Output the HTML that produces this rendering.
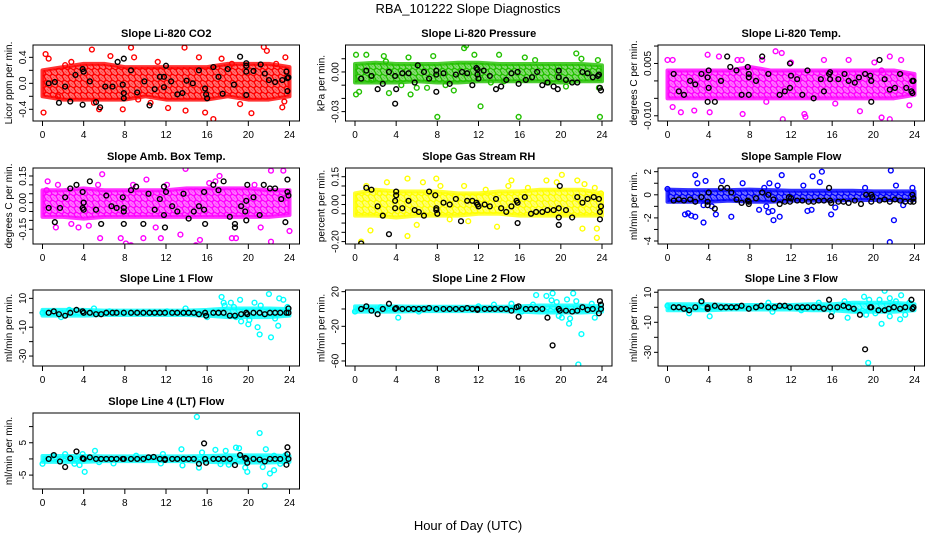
<!DOCTYPE html>
<html><head><meta charset="utf-8"><style>
html,body{margin:0;padding:0;background:#fff;}
svg{display:block;font-family:"Liberation Sans",sans-serif;}
</style></head><body>
<svg id="chart" width="936" height="540" viewBox="0 0 936 540" xmlns="http://www.w3.org/2000/svg">
<defs id="defs"></defs>
<text x="468" y="13" font-size="13" text-anchor="middle">RBA_101222  Slope Diagnostics</text>
<text x="468" y="530" font-size="13" text-anchor="middle">Hour of Day (UTC)</text>
<g id="panels"></g>
</svg>
<script>
const bandHours=[0,2,4,6,8,10,12,14,16,18,20,22,24];
const xTicks=[0,4,8,12,16,20,24];

const co2BandHi=[0.2,0.25,0.3,0.3,0.25,0.25,0.25,0.25,0.25,0.3,0.3,0.3,0.25];
const co2BandLo=[-0.2,-0.25,-0.25,-0.25,-0.25,-0.2,-0.25,-0.25,-0.25,-0.2,-0.25,-0.25,-0.2];
const co2Out=[[0.1,-0.45],[0.3,0.45],[0.6,0.38],[1.5,-0.2],[2.8,0.33],[4.8,0.52],[5.5,-0.4],[6.6,0.42],[7.8,-0.4],[8.6,0.55],[8.9,0.4],[10.5,-0.3],[11.2,0.33],[12.2,-0.38],[13.8,0.55],[13.9,-0.42],[15.2,0.4],[15.8,-0.45],[16.6,-0.55],[17.4,0.38],[19.2,-0.32],[20.3,-0.46],[21.5,0.56],[21.8,0.5],[22.7,0.3],[23.3,-0.37],[23.6,0.4],[23.5,-0.28],[2.2,0.28],[9.3,-0.25],[18.4,0.3],[5.0,-0.3]];
const co2Blk=[[0.6,0],[1.2,0.02],[1.6,-0.3],[2.2,-0.05],[2.7,-0.28],[3.2,0.13],[3.9,-0.33],[3.9,0.22],[4.0,0.18],[4.6,0.03],[5.2,-0.29],[5.6,-0.37],[6.1,-0.05],[6.8,-0.05],[7.3,0.33],[7.8,-0.02],[7.9,-0.15],[7.9,-0.23],[7.9,0.38],[8.6,0.2],[9.2,-0.14],[9.9,0.03],[10.4,-0.34],[10.9,-0.09],[11.4,0.1],[11.8,-0.06],[11.8,0.1],[12.0,0.27],[12.5,0.03],[13.1,-0.17],[13.6,-0.15],[14.0,0.04],[14.6,0],[15.2,0.2],[15.8,-0.08],[15.9,-0.17],[16.0,-0.23],[16.6,0.25],[17.1,0.1],[17.5,-0.16],[18.0,0.22],[18.6,-0.02],[19.2,0.41],[19.8,0.31],[19.8,0.27],[19.8,0.18],[19.8,-0.18],[20.5,0.19],[21.2,0.29],[21.6,0.15],[22.0,0.05],[22.6,0.02],[23.3,0.05],[23.7,0.18],[23.8,0.08],[23.8,-0.12],[23.9,0.09]];

const presBandHi=[0.006,0.007,0.006,0.006,0.006,0.007,0.007,0.006,0.006,0.006,0.006,0.006,0.005];
const presBandLo=[-0.008,-0.008,-0.008,-0.007,-0.008,-0.008,-0.007,-0.007,-0.007,-0.007,-0.008,-0.007,-0.007];
const presOut=[[0.1,0.013],[0.1,-0.017],[0.4,-0.015],[1.1,0.013],[1.6,-0.006],[2.8,0.012],[3.3,-0.016],[4.5,-0.01],[5.2,0.011],[5.4,-0.017],[6.0,-0.012],[7.0,-0.012],[7.6,0.012],[8.0,-0.034],[8.8,-0.01],[9.6,-0.014],[10.6,0.018],[10.8,0.02],[11.6,0.013],[12.2,-0.026],[13.2,-0.008],[14.0,0.013],[14.5,-0.007],[15.9,-0.034],[16.5,0.011],[18.8,-0.008],[20.5,-0.011],[21.5,0.014],[22.0,0.01],[23.8,-0.034],[23.6,0.009],[23.7,-0.012],[3.0,0.008],[17.5,0.009]];
const presBlk=[[1.1,0.001],[0.6,-0.005],[1.6,-0.003],[2.2,-0.013],[2.7,-0.009],[3.3,0],[3.9,-0.003],[3.9,-0.024],[4.0,-0.013],[4.6,-0.001],[5.2,-0.001],[5.8,-0.008],[6.1,0.005],[6.7,0],[7.2,-0.005],[7.9,-0.015],[7.9,-0.002],[7.9,0.001],[8.6,-0.001],[9.2,-0.009],[9.8,-0.002],[10.4,0],[10.9,-0.001],[11.4,-0.01],[11.8,0.003],[11.9,0.002],[11.9,-0.002],[12.0,-0.005],[12.5,0.001],[13.1,-0.003],[13.7,-0.013],[14.2,-0.011],[14.7,-0.006],[15.2,-0.001],[15.8,0],[15.9,-0.009],[16.6,-0.006],[17.2,-0.004],[17.7,0],[18.2,-0.01],[18.7,-0.008],[19.3,-0.011],[19.7,-0.013],[19.8,-0.004],[19.8,0.001],[20.5,-0.006],[21.1,-0.008],[21.6,-0.008],[22.1,0],[22.6,-0.001],[23.1,-0.004],[23.6,-0.003],[23.7,-0.002],[23.8,-0.012],[23.9,-0.014]];

const tempBandHi=[0.003,0.003,0.003,0.003,0.004,0.003,0.003,0.003,0.003,0.003,0.003,0.003,0.002];
const tempBandLo=[-0.005,-0.005,-0.005,-0.005,-0.005,-0.005,-0.005,-0.005,-0.005,-0.005,-0.005,-0.005,-0.004];
const tempOut=[[0,0.006],[0.5,0.006],[0.5,-0.0075],[1.3,-0.009],[2.6,-0.0085],[3.9,0.0075],[5.0,0.007],[6.8,0.006],[7.2,0.006],[7.3,-0.0095],[9.2,0.006],[10.5,0.0085],[11.1,0.008],[11.2,-0.011],[12.0,0.0053],[13.3,-0.0095],[13.4,-0.0103],[15.2,0.006],[17.6,0.006],[18.7,-0.0087],[20.1,0.0053],[20.8,-0.0105],[21.6,-0.011],[21.6,0.007],[22.7,0.006],[4.1,-0.009],[9.6,-0.006],[16.3,-0.0065],[20.8,0.003],[23.5,-0.007]];
const tempBlk=[[0.6,0.002],[1.1,-0.003],[1.6,-0.004],[2.2,0],[2.7,-0.001],[3.3,0.002],[3.9,0.001],[3.9,-0.006],[4.0,0.003],[4.0,-0.002],[4.6,-0.006],[5.2,0],[5.8,0.007],[6.1,0.004],[6.7,0.003],[7.2,-0.004],[7.8,0.004],[7.9,0.002],[7.9,0.001],[7.9,-0.004],[8.6,0],[9.2,0.007],[9.8,0.002],[10.3,-0.0125],[10.9,-0.004],[11.4,-0.003],[11.9,-0.002],[11.9,0.005],[12.0,0.0015],[12.6,0.0005],[13.1,-0.004],[13.6,0.003],[14.2,-0.005],[14.9,0.0005],[15.2,-0.003],[15.7,0.002],[15.8,0.0025],[15.8,0.0005],[16.6,0.0005],[17.2,0.002],[17.6,0],[18.2,-0.0005],[18.6,0.001],[19.2,0.002],[19.7,0.0015],[19.8,0],[19.8,-0.006],[20.6,0.006],[21.1,0.0005],[21.6,-0.0025],[22.1,-0.002],[22.6,0.002],[23.2,-0.002],[23.7,-0.003],[23.8,-0.0035],[23.8,0],[23.9,0]];

const ambBandHi=[0.07,0.07,0.08,0.07,0.07,0.07,0.07,0.08,0.08,0.08,0.08,0.07,0.07];
const ambBandLo=[-0.08,-0.08,-0.09,-0.08,-0.08,-0.08,-0.08,-0.08,-0.08,-0.08,-0.08,-0.08,-0.07];
const ambOut=[[0.4,0.07],[0.5,0.12],[1.3,-0.14],[1.5,0.1],[2.8,-0.12],[3.5,-0.14],[4.5,-0.13],[5.4,0.1],[5.6,-0.2],[5.8,0.16],[7.6,-0.2],[8.1,-0.23],[8.6,-0.24],[8.8,0.1],[9.8,-0.2],[10.1,0.13],[11.5,-0.2],[12.1,0.1],[13.4,-0.18],[13.9,0.19],[14.9,-0.24],[15.3,-0.21],[16.2,0.11],[16.8,0.12],[17.2,0.15],[18.4,-0.2],[18.8,-0.2],[20.6,0.1],[22.2,-0.22],[22.2,0.18],[23.4,0.18],[24.0,-0.16],[21.2,-0.14],[11.0,-0.14]];
const ambBlk=[[0.6,-0.03],[1.2,-0.11],[1.7,-0.03],[2.2,0.03],[2.7,0.08],[3.3,0.1],[3.9,0.06],[3.9,-0.03],[4.0,0],[4.0,-0.04],[4.6,0.12],[5.2,-0.04],[5.7,-0.12],[6.2,0.04],[6.7,-0.02],[7.2,-0.03],[7.8,0.03],[7.9,-0.03],[7.9,-0.05],[7.9,-0.12],[8.6,0.07],[9.1,0.09],[9.8,-0.12],[10.3,0.05],[10.9,-0.04],[11.4,0.02],[11.8,0.09],[11.8,-0.07],[11.9,-0.14],[12.0,0.06],[12.6,-0.02],[13.1,-0.05],[13.7,0.05],[14.2,-0.09],[14.7,-0.05],[15.2,-0.02],[15.7,0.06],[15.7,-0.04],[15.8,-0.12],[16.6,0.1],[17.1,0.07],[17.6,0.12],[18.2,-0.08],[18.7,-0.12],[18.7,-0.14],[19.3,-0.02],[19.7,-0.05],[19.8,0.01],[19.8,-0.1],[19.9,0.1],[20.5,0.03],[21.1,-0.07],[21.5,0.1],[22.1,0.08],[22.6,0.08],[23.2,0.02],[23.6,-0.11],[23.8,0.06],[23.8,0.13],[23.9,0.04]];

const rhBandHi=[0.06,0.08,0.07,0.07,0.07,0.06,0.06,0.07,0.07,0.08,0.08,0.08,0.06];
const rhBandLo=[-0.06,-0.06,-0.07,-0.06,-0.06,-0.06,-0.05,-0.05,-0.06,-0.06,-0.06,-0.06,-0.06];
const rhOut=[[0.6,-0.2],[1.1,0.1],[1.5,-0.14],[3.1,0.12],[5.1,-0.17],[5.1,0.14],[6.0,-0.11],[6.6,0.12],[7.9,0.14],[8.3,0.1],[9.2,-0.08],[10.6,0.1],[11.0,-0.09],[12.7,0.08],[13.8,-0.12],[14.9,0.1],[15.2,0.13],[16.8,0.09],[18.6,0.13],[19.6,0.12],[20.1,0.16],[21.6,0.13],[22.1,-0.13],[22.3,0.11],[23.3,0.09],[23.5,-0.18],[23.5,-0.13],[23.9,0.06],[2.4,0.06]];
const rhBlk=[[0.6,-0.21],[1.1,0.09],[1.6,0.08],[2.2,-0.01],[2.7,-0.06],[3.3,-0.16],[3.9,-0.02],[3.9,0.02],[4.0,0.05],[4.0,0.07],[4.6,-0.02],[5.2,0.02],[5.8,-0.03],[6.2,-0.04],[6.7,-0.06],[7.2,0.07],[7.8,0.05],[7.9,-0.02],[7.9,-0.03],[8.0,-0.05],[8.6,0.01],[9.2,0],[9.8,0.03],[10.3,-0.09],[10.9,0.02],[11.4,0.02],[11.8,0.01],[11.9,0],[12.0,-0.01],[12.6,0],[13.1,-0.01],[13.7,0.03],[14.2,-0.02],[14.7,-0.04],[15.2,-0.01],[15.7,0.02],[15.8,0.01],[15.8,-0.1],[16.5,0.04],[17.1,-0.05],[17.6,-0.04],[18.2,-0.04],[18.7,-0.03],[19.3,-0.03],[19.8,-0.07],[19.8,-0.02],[19.8,-0.11],[19.9,0.1],[20.5,-0.03],[21.1,-0.07],[21.6,0.04],[22.1,0.01],[22.6,0.03],[23.2,0.04],[23.7,0.03],[23.8,-0.04],[23.8,-0.08],[23.9,-0.01]];

const sampBandHi=[0.45,0.4,0.4,0.4,0.45,0.4,0.35,0.35,0.35,0.35,0.3,0.3,0.3];
const sampBandLo=[-0.6,-0.6,-0.6,-0.5,-0.6,-0.6,-0.5,-0.5,-0.5,-0.45,-0.45,-0.45,-0.45];
const sampOut=[[0,0.5],[1.7,-1.7],[2.0,-1.6],[2.3,-1.8],[2.7,-1.9],[2.7,1.7],[2.9,1.0],[3.5,-0.9],[3.5,-2.4],[3.7,1.2],[4.7,-1.7],[5.3,1.2],[6.2,-1.9],[7.3,1.0],[8.9,-1.3],[9.6,-1.0],[9.9,1.0],[9.8,-1.5],[10.3,-2.2],[10.2,-1.4],[10.7,0.8],[10.9,-1.9],[11.1,1.7],[13.2,0.8],[13.6,-1.4],[14.0,-1.3],[14.1,1.6],[14.8,1.1],[15.0,2.0],[15.9,-1.7],[16.3,-1.1],[19.2,0.6],[21.6,-4.1],[21.7,2.1],[22.0,-2.2],[22.2,0.8],[22.9,-0.9],[23.8,0.6],[9.4,0.6],[4.3,-1.0]];
const sampBlk=[[0.6,-0.5],[1.1,-0.4],[1.6,-0.5],[2.2,-0.4],[2.7,-0.6],[3.3,-0.2],[3.9,-0.9],[3.9,-0.6],[4.0,0.2],[4.6,-1.2],[5.2,0.6],[5.8,0.6],[6.2,0.2],[6.7,-0.4],[7.2,-0.7],[7.8,-0.5],[7.9,-0.6],[7.9,-0.8],[8.6,-0.3],[9.2,0.2],[9.8,0],[10.3,-0.4],[10.9,-0.8],[11.4,-0.6],[11.8,-0.2],[11.9,-0.6],[12.0,-0.3],[12.6,-0.5],[13.1,-0.5],[13.7,-0.6],[14.2,-0.6],[14.7,-0.5],[15.2,-0.5],[15.7,0.6],[15.8,-0.5],[15.9,-0.7],[16.6,-0.6],[17.1,-0.6],[17.6,-0.7],[18.2,-0.5],[18.8,-0.8],[19.3,0],[19.8,0],[19.8,-0.6],[19.9,-0.2],[20.6,-0.5],[21.1,-0.4],[21.6,-0.6],[22.1,-0.4],[22.6,-0.5],[23.1,-0.6],[23.6,-0.6],[23.8,0],[23.9,-0.6],[23.9,-0.3]];

const l1BandHi=[2,2,2,1.5,1.5,1.5,1.5,1.5,2,3,3,3,2.5];
const l1BandLo=[-2,-2,-2,-1.5,-1.5,-1.5,-1.5,-1.5,-2,-3,-3,-3,-2];
const l1Out=[[0,0],[1.8,-3],[2.6,2],[5.0,3],[6.5,1],[12.1,1],[13.9,3],[15.5,-1],[17.4,11],[17.6,7],[17.7,5],[18.3,7],[18.6,4],[19.2,9],[19.3,-6],[20.0,-8],[20.1,-5],[20.6,7],[20.9,-10],[21.1,-15],[21.2,5],[21.9,-45],[22.0,13],[22.2,-17],[22.6,-4],[22.9,-9],[23.0,10],[23.4,9],[23.6,1],[23.8,4],[16.0,-3],[18.8,-3]];
const l1Blk=[[0.6,0],[1.1,1],[1.6,-1],[2.2,-2],[2.7,0],[3.3,2],[3.9,1],[4.0,0],[4.6,0],[5.2,-1],[5.7,-1],[6.2,0],[6.8,0],[7.2,0],[7.9,0],[8.6,0],[9.2,0],[9.8,0],[10.4,0],[10.9,0],[11.4,0],[11.9,0],[12.6,0],[13.1,0],[13.7,0],[14.2,0],[14.7,0],[15.2,-1],[15.8,0],[15.9,-2],[16.6,0],[17.1,0],[17.6,0],[18.2,-2],[18.7,-2],[19.3,-1],[19.8,0],[19.9,-1],[20.5,0],[21.1,0],[21.6,-1],[22.1,0],[22.6,0],[23.1,0],[23.7,0],[23.9,0],[23.9,3]];

const l2BandHi=[3,3,3,2.5,2.5,2.5,2.5,2.5,3,4,4,4,3];
const l2BandLo=[-3,-3,-3,-2.5,-2.5,-2.5,-2.5,-2.5,-3,-4,-4,-4,-3];
const l2Out=[[0,-3],[2.5,2],[4.2,-10],[6.2,-3],[13.5,5],[15.2,6],[17.3,5],[17.6,16],[18.6,15],[19.2,18],[19.1,10],[19.6,8],[19.8,-8],[20.1,-10],[20.6,11],[20.8,-17],[20.9,-11],[21.2,18],[21.5,9],[22.0,-29],[21.7,-64],[23.3,-10],[23.0,6],[16.2,-3],[12.0,3]];
const l2Blk=[[0.6,0],[1.1,3],[1.6,-2],[2.2,-6],[2.7,0],[3.3,6],[3.9,0],[4.0,1],[4.6,0],[5.2,0],[5.7,0],[6.2,0],[6.7,0],[7.2,1],[7.9,0],[8.6,0],[9.2,0],[9.8,0],[10.4,0],[10.9,1],[11.4,0],[11.9,-1],[11.9,0],[12.6,0],[13.1,0],[13.6,0],[14.2,0],[14.7,0],[15.2,-2],[15.7,2],[15.9,3],[15.9,-9],[16.6,0],[17.1,0],[17.6,0],[18.2,0],[18.7,-10],[19.2,-42],[19.8,0],[19.9,-2],[20.5,-2],[21.1,-3],[21.6,-2],[22.1,2],[22.6,-1],[23.1,0],[23.7,-5],[23.8,9],[23.9,5],[23.9,0]];

const l3BandHi=[2,2,2,1.5,1.5,1.5,1.5,2,2,3,3,3,2];
const l3BandLo=[-2,-2,-2,-1.5,-1.5,-1.5,-1.5,-2,-2,-3,-3,-3,-2];
const l3Out=[[0,1],[2.1,-4],[3.3,3],[4.1,-6],[9.8,3],[10.2,-3],[13.0,-2],[14.7,3],[16.0,-3],[17.2,4],[17.5,-7],[17.6,2],[18.3,-2],[19.1,7],[19.3,-5],[19.5,-37],[19.6,5],[20.2,-4],[20.6,5],[20.8,-11],[21.1,11],[21.6,6],[21.6,-6],[22.2,4],[22.6,-8],[22.7,8],[23.1,-5],[23.5,3]];
const l3Blk=[[0.6,0],[1.1,0],[1.6,-1],[2.1,-2],[2.7,0],[3.3,4],[3.9,0],[3.9,-1],[4.6,1],[5.2,0],[5.7,0],[6.2,0],[6.7,0],[7.2,1],[7.9,-1],[8.6,0],[9.1,1],[9.8,0],[10.4,0],[10.9,1],[11.4,1],[11.9,0],[12.6,0],[13.1,0],[13.6,0],[14.2,0],[14.7,0],[15.2,-1],[15.7,5],[15.8,0],[15.9,-6],[16.5,0],[17.1,1],[17.6,0],[18.1,-1],[18.7,-5],[19.2,-28],[19.7,0],[19.8,0],[20.5,-2],[21.1,-2],[21.5,-1],[22.0,0],[22.6,-1],[23.1,0],[23.7,5],[23.8,-1],[23.9,0]];

const l4BandHi=[0.9,0.9,0.9,0.8,0.8,0.8,0.8,0.8,0.9,1.1,1.1,1.1,0.9];
const l4BandLo=[-0.9,-0.9,-0.9,-0.7,-0.7,-0.7,-0.7,-0.7,-0.9,-1.1,-1.1,-1.1,-0.9];
const l4Out=[[0,-1.5],[1.0,1],[2.2,1.5],[3.1,-1.5],[3.6,-1.9],[3.9,1.5],[4.1,-4],[5.1,2.5],[5.5,-1],[6.9,-1.4],[9.1,1],[11.7,1.5],[11.5,-1.4],[13.5,3],[13.6,-2],[15.0,13],[15.2,-2.7],[15.5,2],[16.8,2.8],[17.3,-1.6],[17.8,2.5],[18.1,-1.8],[18.8,3.5],[19.1,3.3],[19.7,-2.7],[19.9,-4],[21.1,8],[21.4,-2.5],[21.6,-8.3],[21.7,3],[22.1,-4.5],[22.5,-3.5],[22.5,1],[23.1,-1.5],[23.6,1.1]];
const l4Blk=[[0.6,0],[1.1,1.2],[1.7,-0.8],[2.2,-2.5],[2.7,0.2],[3.3,2.3],[3.9,0.2],[4.0,0],[4.6,0.5],[5.2,0],[5.7,0],[6.2,0],[6.7,0],[7.2,0],[7.8,0],[7.9,0],[8.6,0],[9.2,0],[9.8,0],[10.3,0.5],[10.8,0.6],[11.4,0],[11.9,0],[11.9,-0.3],[12.6,0],[13.1,0],[13.7,0],[14.2,0],[14.7,0],[15.2,-1.5],[15.7,4.8],[15.8,0],[15.9,-1.2],[16.6,0],[17.1,0],[17.6,0],[18.2,0],[18.7,-1.9],[19.2,1.2],[19.7,0.3],[19.8,0],[19.9,-1.2],[20.5,0],[21.1,-0.2],[21.6,-0.8],[22.1,0],[22.6,0],[23.1,0],[23.7,-1.8],[23.8,3.6],[23.8,1.5],[23.9,0]];

const panels=[
 {id:'co2',title:'Slope Li-820 CO2',ylab:'Licor ppm per min.',col:0,row:0,color:'#ff0000',ylim:[-0.58,0.59],yt:[-0.4,-0.2,0,0.2,0.4],yl:{'-0.4':'-0.4','0':'0.0','0.4':'0.4'},hi:co2BandHi,lo:co2BandLo,out:co2Out,blk:co2Blk},
 {id:'pressure',title:'Slope Li-820 Pressure',ylab:'kPa per min.',col:1,row:0,color:'#22c000',ylim:[-0.0371,0.0204],yt:[-0.03,-0.02,-0.01,0,0.01],yl:{'-0.03':'-0.03','0':'0.00'},hi:presBandHi,lo:presBandLo,out:presOut,blk:presBlk},
 {id:'temp',title:'Slope Li-820 Temp.',ylab:'degrees C per min.',col:2,row:0,color:'#ff00ff',ylim:[-0.0115,0.0103],yt:[-0.01,-0.005,0,0.005,0.01],yl:{'-0.01':'-0.010','0.005':'0.005'},hi:tempBandHi,lo:tempBandLo,out:tempOut,blk:tempBlk},
 {id:'amb-box-temp',title:'Slope Amb. Box Temp.',ylab:'degrees C per min.',col:0,row:1,color:'#ff00ff',ylim:[-0.233,0.195],yt:[-0.15,-0.1,-0.05,0,0.05,0.1,0.15],yl:{'-0.15':'-0.15','0':'0.00','0.15':'0.15'},hi:ambBandHi,lo:ambBandLo,out:ambOut,blk:ambBlk},
 {id:'gas-rh',title:'Slope Gas Stream RH',ylab:'percent per min.',col:1,row:1,color:'#ffff00',ylim:[-0.213,0.197],yt:[-0.2,-0.15,-0.1,-0.05,0,0.05,0.1,0.15],yl:{'-0.2':'-0.20','0':'0.00','0.15':'0.15'},hi:rhBandHi,lo:rhBandLo,out:rhOut,blk:rhBlk},
 {id:'sample-flow',title:'Slope Sample Flow',ylab:'ml/min per min.',col:2,row:1,color:'#0000ff',ylim:[-4.26,2.32],yt:[-4,-3,-2,-1,0,1,2],yl:{'-4':'-4','-2':'-2','0':'0','2':'2'},hi:sampBandHi,lo:sampBandLo,out:sampOut,blk:sampBlk},
 {id:'line1-flow',title:'Slope Line 1 Flow',ylab:'ml/min per min.',col:0,row:2,color:'#00ffff',ylim:[-36.9,15.8],yt:[-30,-20,-10,0,10],yl:{'-30':'-30','-10':'-10','10':'10'},hi:l1BandHi,lo:l1BandLo,out:l1Out,blk:l1Blk},
 {id:'line2-flow',title:'Slope Line 2 Flow',ylab:'ml/min per min.',col:1,row:2,color:'#00ffff',ylim:[-65.8,21.9],yt:[-60,-40,-20,0,20],yl:{'-60':'-60','-20':'-20','20':'20'},hi:l2BandHi,lo:l2BandLo,out:l2Out,blk:l2Blk},
 {id:'line3-flow',title:'Slope Line 3 Flow',ylab:'ml/min per min.',col:2,row:2,color:'#00ffff',ylim:[-39.1,11.5],yt:[-30,-20,-10,0,10],yl:{'-30':'-30','-10':'-10','10':'10'},hi:l3BandHi,lo:l3BandLo,out:l3Out,blk:l3Blk},
 {id:'line4-flow',title:'Slope Line 4 (LT) Flow',ylab:'ml/min per min.',col:0,row:3,color:'#00ffff',ylim:[-9.3,14.2],yt:[-5,0,5,10],yl:{'-5':'-5','5':'5'},hi:l4BandHi,lo:l4BandLo,out:l4Out,blk:l4Blk}
];

const NS='http://www.w3.org/2000/svg';
const root=document.getElementById('panels');
const defs=document.getElementById('defs');
const colLeft=[33,345.5,658], rowTop=[45,168,290,413], W=266.5, H=76;
function mk(tag,attrs,parent){const e=document.createElementNS(NS,tag);for(const k in attrs)e.setAttribute(k,attrs[k]);parent.appendChild(e);return e;}

panels.forEach(p=>{
  const L=colLeft[p.col], T=rowTop[p.row];
  const xs=h=>L+9.5+h*(247/24);
  const ys=v=>T+H-(v-p.ylim[0])/(p.ylim[1]-p.ylim[0])*H;
  const pat=mk('pattern',{id:'pat-'+p.id,width:6,height:6,patternUnits:'userSpaceOnUse'},defs);
  mk('circle',{cx:1.5,cy:1.5,r:2.2,fill:'none',stroke:p.color,'stroke-width':1.4},pat);
  mk('circle',{cx:4.5,cy:4.5,r:2.2,fill:'none',stroke:p.color,'stroke-width':1.4},pat);
  const g=mk('g',{},root);
  
  
  const cp=mk('clipPath',{id:'clip-'+p.id},g);
  mk('rect',{x:L,y:T,width:W,height:H},cp);
  const t=mk('text',{x:L+W/2,y:T-8,'font-size':11,'font-weight':'bold','text-anchor':'middle'},g);
  t.textContent=p.title;
  
  
  const yl=mk('text',{x:0,y:0,'font-size':10,'text-anchor':'middle',transform:`translate(${L-21},${T+H/2}) rotate(-90)`},g);
  yl.textContent=p.ylab;
  
  
  const dg=mk('g',{'clip-path':`url(#clip-${p.id})`},g);
  let pts=bandHours.map((h,i)=>xs(h)+','+ys(p.hi[i]));
  pts=pts.concat(bandHours.slice().reverse().map((h,i)=>xs(h)+','+ys(p.lo[bandHours.length-1-i])));
  const under=mk('polygon',{points:pts.join(' '),fill:p.color,'fill-opacity':0.55,stroke:p.color,'stroke-opacity':0.8,'stroke-width':4,'stroke-linejoin':'round'},dg);
  
  
  const band=mk('polygon',{points:pts.join(' '),fill:`url(#pat-${p.id})`,stroke:'none'},dg);
  
  
  p.out.forEach(d=>{
    const c=mk('circle',{cx:xs(d[0]),cy:ys(d[1]),r:2.4,fill:'none',stroke:p.color,'stroke-width':1.4},dg);
    
    
  });
  p.blk.forEach(d=>{
    const c=mk('circle',{cx:xs(d[0]),cy:ys(d[1]),r:2.4,fill:'none',stroke:'#000','stroke-width':1.4},dg);
    
    
  });
  const box=mk('rect',{x:L,y:T,width:W,height:H,fill:'none',stroke:'#000','stroke-width':1},g);
  
  
  const xa=mk('g',{},g);
  
  
  xTicks.forEach(h=>{
    mk('line',{x1:xs(h),x2:xs(h),y1:T+H,y2:T+H+5,stroke:'#000'},xa);
    const tl=mk('text',{x:xs(h),y:T+H+17,'font-size':10,'text-anchor':'middle'},xa);
    tl.textContent=h;
  });
  const ya=mk('g',{},g);
  
  
  p.yt.forEach(v=>{
    const y=ys(v);
    mk('line',{x1:L-4,x2:L,y1:y,y2:y,stroke:'#000'},ya);
    const key=String(v);
    if(p.yl[key]!==undefined){
      const tl=mk('text',{x:0,y:0,'font-size':10,'text-anchor':'middle',transform:`translate(${L-7},${y}) rotate(-90)`},ya);
      tl.textContent=p.yl[key];
    }
  });
});
</script>
</body></html>
